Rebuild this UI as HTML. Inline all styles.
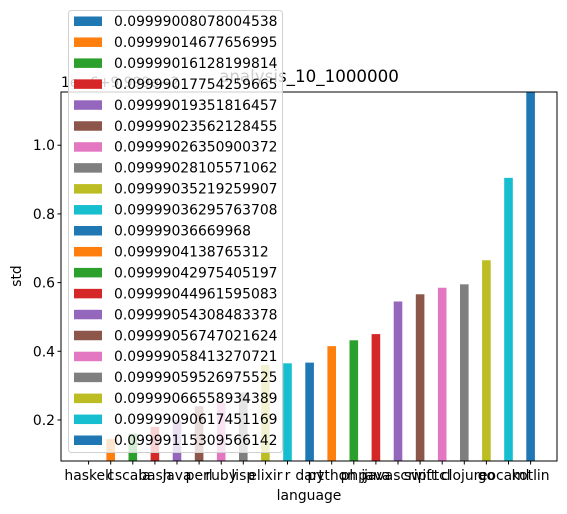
<!DOCTYPE html>
<html><head><meta charset="utf-8"><style>
html,body{margin:0;padding:0;background:#fff}
svg{display:block;font-family:"DejaVu Sans","Liberation Sans",sans-serif}
</style></head><body>
<svg id="chart" width="567" height="514" viewBox="0 0 567 514"></svg>
<script>
const categories=["haskell","c","scala","bash","java","perl","ruby","lisp","elixir","r","dart","python","php","java","javascript","swift","tcl","clojure","go","ocaml","kotlin"];
const values=[0.08,0.145,0.16,0.18,0.2,0.24,0.25,0.28,0.36,0.365,0.367,0.415,0.432,0.45,0.545,0.566,0.585,0.595,0.665,0.905,1.16];
const legendLabels=["0.09999008078004538","0.09999014677656995","0.09999016128199814","0.09999017754259665","0.09999019351816457","0.09999023562128455","0.09999026350900372","0.09999028105571062","0.09999035219259907","0.09999036295763708","0.09999036669968","0.0999904138765312","0.09999042975405197","0.09999044961595083","0.09999054308483378","0.09999056747021624","0.09999058413270721","0.09999059526975525","0.09999066558934389","0.09999090617451169","0.09999115309566142"];
const yTicks=[0.2,0.4,0.6,0.8,1.0];
const colors=["#1f77b4","#ff7f0e","#2ca02c","#d62728","#9467bd","#8c564b","#e377c2","#7f7f7f","#bcbd22","#17becf"];
const NS="http://www.w3.org/2000/svg";
const svg=document.getElementById("chart");
const L=61,R=557,T=92,B=461,yMin=0.0805,yMax=1.155;
const y=v=>B-(v-yMin)/(yMax-yMin)*(B-T);
const x=i=>88.6+i*22.1;
function mk(t,a,p){const e=document.createElementNS(NS,t);for(const k in a)e.setAttribute(k,a[k]);(p||svg).appendChild(e);return e;}
const bars=mk("g",{});


values.forEach((v,i)=>{
 const top=Math.max(y(Math.min(v,yMax)),T);
 const r=mk("rect",{x:x(i)-4.3,y:top,width:8.6,height:Math.max(0,B-top),fill:colors[i%10]},bars);
 
 
});
const ax=mk("rect",{x:L,y:T,width:R-L,height:B-T,fill:"none",stroke:"#000","stroke-width":1});


yTicks.forEach(t=>{
 const yy=y(t);
 mk("line",{x1:L-3.5,x2:L,y1:yy,y2:yy,stroke:"#000"});
 const tx=mk("text",{x:L-6,y:yy+5,"text-anchor":"end","font-size":13.9});
 tx.textContent=t.toFixed(1);
 
 
});
categories.forEach((c,i)=>{
 mk("line",{x1:x(i),x2:x(i),y1:B,y2:B+3.5,stroke:"#000"});
 const tx=mk("text",{x:x(i),y:B+19,"text-anchor":"middle","font-size":13.9});
 tx.textContent=c;
 
 
});
let t=mk("text",{x:309,y:500,"text-anchor":"middle","font-size":13.9});t.textContent="language";


t=mk("text",{x:21,y:276,"text-anchor":"middle","font-size":13.9,transform:"rotate(-90 21 276)"});t.textContent="std";


t=mk("text",{x:309,y:82,"text-anchor":"middle","font-size":16.7});t.textContent="analysis_10_1000000";


t=mk("text",{x:61,y:87,"font-size":13.9});t.textContent="1e−6+9.999e−2";


const lg=mk("g",{});


mk("rect",{x:68.5,y:10.5,width:214,height:442,rx:3,fill:"rgba(255,255,255,0.8)",stroke:"#d0d0d0"},lg);
legendLabels.forEach((s,i)=>{
 const yy=21+i*20.95;
 mk("rect",{x:74,y:yy-4.5,width:28,height:9.5,fill:colors[i%10]},lg);
 const tx=mk("text",{x:114,y:yy+5,"font-size":13.9},lg);
 tx.textContent=s;
 
 
});
</script>
</body></html>
